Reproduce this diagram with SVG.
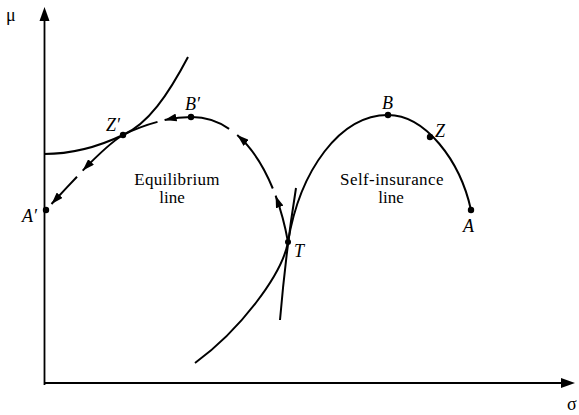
<svg xmlns="http://www.w3.org/2000/svg" width="579" height="415" viewBox="0 0 579 415">
<style>
.c{fill:none;stroke:#000;stroke-width:2;stroke-linecap:butt}
.ax{fill:none;stroke:#000;stroke-width:1.8}
.dot{fill:#000}
.lb{font-family:"Liberation Serif",serif;font-style:italic;font-size:18px;fill:#000}
.tx{font-family:"Liberation Serif",serif;font-size:17px;fill:#000;text-anchor:middle}
.gr{font-family:"Liberation Serif",serif;font-size:18px;fill:#000}
</style>
<defs>
<marker id="ah" markerUnits="userSpaceOnUse" markerWidth="13" markerHeight="8" refX="12" refY="4" orient="auto">
<path d="M0,0 L12,4 L0,8 Z" fill="#000"/>
</marker>
</defs>
<rect width="579" height="415" fill="#fff"/>
<g id="axes">
<line class="ax" x1="44.5" y1="385" x2="44.5" y2="18"/>
<polygon points="44.5,7 39.5,21 49.5,21" fill="#000"/>
<line class="ax" x1="44" y1="383" x2="563" y2="383"/>
<polygon points="575,383 561,378 561,388" fill="#000"/>
<text class="gr" x="6" y="21">μ</text>
<text class="gr" x="567" y="410">σ</text>
</g>
<g id="connectors">
<path id="self-insurance-curve" class="c" d="M195,363 C240,330 282,275 288,242 C300,170 340,115 388,115 C425,115 460,160 471,210"/>
<path id="tangent-T" class="c" d="M280,320 Q286,250 296,188"/>
<path id="indifference-curve" class="c" d="M44,154 C75,154 100,146 123,135 C148,124 168,95 188,57"/>
<path class="c" marker-end="url(#ah)" d="M288,242 C285,225.4 280.8,209.8 275.6,195.7"/>
<path class="c" marker-end="url(#ah)" d="M272.8,188.5 C263.6,166 251.6,147.5 237.2,135"/>
<path class="c" marker-end="url(#ah)" d="M229.1,128.8 C217.9,121.2 205.4,117 192,117 C183.2,117 174,118 164.6,120.1"/>
<path class="c" marker-end="url(#ah)" d="M157.5,121.9 C145.75,125 134,129.5 123,135 C112,141.6 97.7,155.1 82.7,170.6"/>
<path class="c" marker-end="url(#ah)" d="M77,176.7 C68.5,185.7 59.8,195.1 51.5,204"/>
</g>
<g id="node-A-prime"><circle class="dot" cx="46" cy="210" r="3.2"/><text class="lb" x="22" y="222">A′</text></g>
<g id="node-Z-prime"><circle class="dot" cx="123" cy="135" r="3.2"/><text class="lb" x="106" y="131">Z′</text></g>
<g id="node-B-prime"><circle class="dot" cx="191" cy="117" r="3.2"/><text class="lb" x="185" y="110">B′</text></g>
<g id="node-B"><circle class="dot" cx="388" cy="115" r="3.2"/><text class="lb" x="382" y="109">B</text></g>
<g id="node-Z"><circle class="dot" cx="430" cy="137" r="3.2"/><text class="lb" x="435" y="137">Z</text></g>
<g id="node-A"><circle class="dot" cx="471" cy="210" r="3.2"/><text class="lb" x="463" y="232">A</text></g>
<g id="node-T"><circle class="dot" cx="288" cy="242" r="3"/><text class="lb" x="294" y="257">T</text></g>
<g id="label-equilibrium"><text class="tx" x="177" y="185" letter-spacing="0.3">Equilibrium</text><text class="tx" x="172" y="203">line</text></g>
<g id="label-self-insurance"><text class="tx" x="392" y="185" letter-spacing="0.4">Self-insurance</text><text class="tx" x="391" y="203">line</text></g>
</svg>
